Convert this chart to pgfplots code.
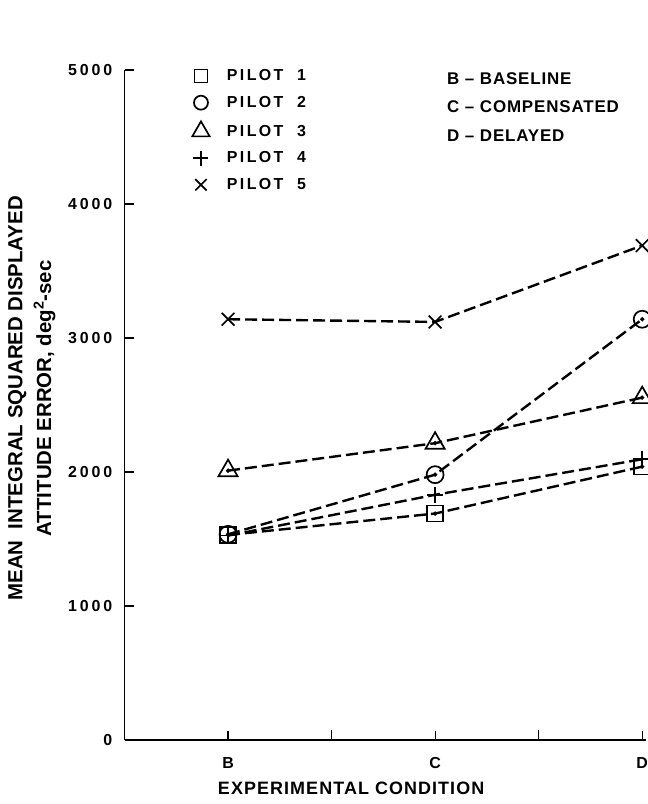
\documentclass[border=0pt]{standalone}
\usepackage{fontspec}
\setmainfont{Liberation Sans}
\newfontfamily\tickfont{Liberation Sans}[LetterSpace=18]
\newfontfamily\legfont{Liberation Sans}[LetterSpace=15]
\newfontfamily\keyfont{Liberation Sans}[LetterSpace=5]
\newfontfamily\xlabfont{Liberation Sans}[LetterSpace=6]
\usepackage{pgfplots}
\pgfplotsset{compat=1.18}
\begin{document}
\begin{tikzpicture}
\useasboundingbox (0,0) rectangle (648bp,804bp);
\begin{axis}[
 at={(124.5bp,64bp)}, anchor=south west, scale only axis,
 width=521bp, height=670bp,
 xmin=-0.5, xmax=2.016, ymin=0, ymax=5000,
 axis lines*=left, axis line style={line width=1.5bp, -},
 xtick={0,1,2}, xticklabels={B,C,D},
 minor xtick={0.5,1.5},
 ytick={0,1000,2000,3000,4000,5000},
 tick align=inside, major tick length=9bp, minor tick length=10bp,
 every tick/.style={line width=1.2bp, black},
 ticklabel style={font=\tickfont\bfseries\fontsize{16}{18}\selectfont, inner sep=0pt},
 /pgf/number format/assume math mode=true,
 /pgf/number format/set thousands separator={},
 yticklabel style={anchor=east, xshift=-12bp},
 xticklabel style={anchor=north, yshift=-17bp},
 clip=false,
 legend style={at={(rel axis cs:0.1276,1.003)}, anchor=north west, draw=none, fill=none,
   inner sep=0pt, outer sep=0pt,
   font=\legfont\bfseries\fontsize{16}{18}\selectfont, row sep=10.7bp,
   nodes={inner sep=0pt},
   /tikz/every odd column/.append style={column sep=16bp}},
 legend cell align=left,
 legend image code/.code={\path[draw=none,fill=none] (-10bp,-8bp) rectangle (10bp,8bp); \draw[#1,only marks,line width=1.7bp,mark options={solid,line width=1.7bp}] plot coordinates {(0bp,0bp)};},
 every axis plot/.append style={black, line width=2.4bp, dash pattern=on 12bp off 5bp, mark options={solid, line width=1.7bp, fill=white}},
]
\addplot[mark=square, mark size=8bp, legend image post style={mark size=6.5bp}] coordinates {(0,1530) (1,1690) (2,2040)};
\addlegendentry{PILOT\ \ 1}
\addplot[mark=o, mark size=8.5bp, legend image post style={mark size=7bp}] coordinates {(0,1535) (1,1980) (2,3140)};
\addlegendentry{PILOT\ \ 2}
\addplot[mark=triangle, mark size=11bp, legend image post style={mark size=10bp}] coordinates {(0,2010) (1,2215) (2,2555)};
\addlegendentry{PILOT\ \ 3}
\addplot[mark=+, mark size=8bp, legend image post style={mark size=7.5bp}] coordinates {(0,1525) (1,1830) (2,2095)};
\addlegendentry{PILOT\ \ 4}
\addplot[mark=x, mark size=9bp, legend image post style={mark size=8bp}] coordinates {(0,3140) (1,3120) (2,3690)};
\addlegendentry{PILOT\ \ 5}
% center dots
\addplot[forget plot, only marks, mark=*, mark size=1.2bp] coordinates {(0,1530) (1,1690) (2,2040) (0,1535) (1,1980) (2,3140) (0,2010) (1,2215) (2,2555)};
\node[anchor=north west, align=left, inner sep=0pt, font=\keyfont\bfseries\fontsize{17}{29}\selectfont] at (rel axis cs:0.619,0.997)
 {B \textendash\ BASELINE\\C \textendash\ COMPENSATED\\D \textendash\ DELAYED};
\node[rotate=90, align=center, inner sep=0pt, font=\bfseries\fontsize{20.5}{29}\selectfont] at (rel axis cs:-0.178,0.51)
 {MEAN\ \ INTEGRAL SQUARED DISPLAYED\\ATTITUDE ERROR, deg\textsuperscript{2}-sec};
\node[font=\xlabfont\bfseries\fontsize{18}{20}\selectfont, inner sep=0pt] at (rel axis cs:0.435,-0.0716) {EXPERIMENTAL CONDITION};
\end{axis}
\end{tikzpicture}
\end{document}
